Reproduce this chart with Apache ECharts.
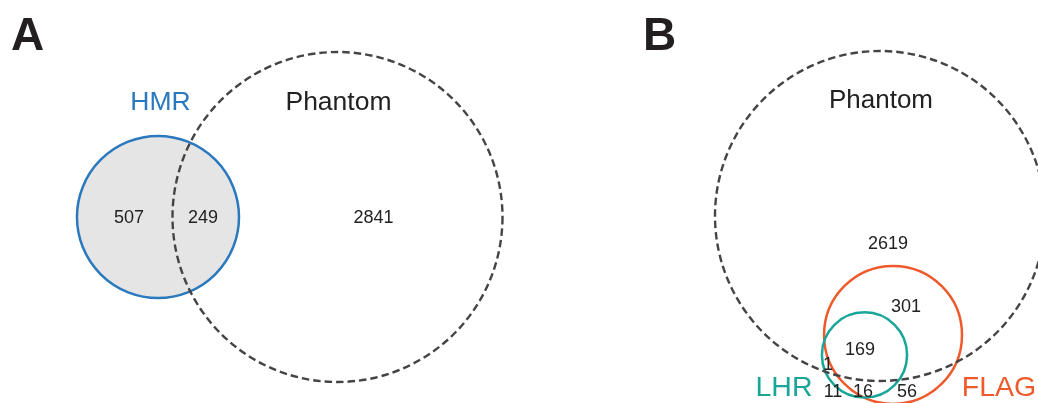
<!DOCTYPE html>
<html>
<head>
<meta charset="utf-8">
<title>Venn diagrams</title>
<script src="https://cdn.jsdelivr.net/npm/echarts@6/dist/echarts.min.js"></script>
<style>
  html, body { margin: 0; padding: 0; background: #ffffff; }
  #chart { width: 1038px; height: 403px; }
</style>
</head>
<body>
<div id="chart"></div>
<script>
// ---- Panel A: HMR vs Phantom ----
const setNamesA = ['HMR', 'Phantom'];
const regionLabelsA = ['HMR only', 'HMR ∩ Phantom', 'Phantom only'];
const regionCountsA = [507, 249, 2841];

// ---- Panel B: Phantom, FLAG, LHR ----
const setNamesB = ['Phantom', 'FLAG', 'LHR'];
const regionLabelsB = ['Phantom only', 'Phantom ∩ FLAG', 'Phantom ∩ FLAG ∩ LHR', 'Phantom ∩ LHR',
                       'LHR only', 'FLAG ∩ LHR', 'FLAG only'];
const regionCountsB = [2619, 301, 169, 1, 11, 16, 56];

const panelLetters = ['A', 'B'];

// Circle geometry in panel units (Phantom circle: radius 10 at origin): [cx, cy, r]
const circlesA = [[-10.88, 0, 4.91], [0, 0, 10]];
const circlesB = [[0, 0, 10], [0.79, -7.21, 4.18], [-0.94, -8.42, 2.58]];

// Label anchors in panel units
const namePosA = [[-10.73, 6.9], [0.06, 6.9]];
const countPosA = [[-12.64, -0.08], [-8.15, -0.08], [2.18, -0.08]];
const namePosB = [[0.06, 6.95], [7.21, -10.45], [-5.82, -10.42]];
const countPosB = [[0.48, -1.67], [1.58, -5.52], [-1.21, -8.15], [-3.15, -9.03],
                   [-2.85, -10.67], [-1.03, -10.67], [1.64, -10.67]];

const FONT = '"Liberation Sans", Arial, Helvetica, sans-serif';
const setStyle = {
  HMR:     { stroke: '#2a78bd', fill: '#e5e5e5', lineWidth: 2.5, lineDash: null, text: '#2a78bd' },
  Phantom: { stroke: '#444444', fill: null, lineWidth: 2.4, lineDash: [7.5, 4], text: '#222222' },
  FLAG:    { stroke: '#ee5a2c', fill: null, lineWidth: 2.5, lineDash: null, text: '#ee5a2c' },
  LHR:     { stroke: '#19a598', fill: null, lineWidth: 2.5, lineDash: null, text: '#19a598' }
};

function circleSeries(gridIndex, circles, names, which, z) {
  // which: 'fill' or 'stroke'
  return {
    type: 'custom',
    coordinateSystem: 'cartesian2d',
    xAxisIndex: gridIndex,
    yAxisIndex: gridIndex,
    z: z,
    silent: true,
    clip: false,
    data: circles.map((c, i) => ({ value: c, name: names[i] })),
    renderItem: function (params, api) {
      const name = names[params.dataIndex];
      const st = setStyle[name];
      const c = api.coord([api.value(0), api.value(1)]);
      const r = api.size([api.value(2), 0])[0];
      if (which === 'fill') {
        if (!st.fill) return null;
        return { type: 'circle', shape: { cx: c[0], cy: c[1], r: r }, style: { fill: st.fill, stroke: null } };
      }
      return {
        type: 'circle',
        shape: { cx: c[0], cy: c[1], r: r },
        style: { fill: null, stroke: st.stroke, lineWidth: st.lineWidth, lineDash: st.lineDash }
      };
    }
  };
}

function textSeries(gridIndex, positions, texts, colors, fontSize, z) {
  return {
    type: 'custom',
    coordinateSystem: 'cartesian2d',
    xAxisIndex: gridIndex,
    yAxisIndex: gridIndex,
    z: z,
    silent: true,
    clip: false,
    data: positions.map((p, i) => ({ value: [p[0], p[1]], name: String(texts[i]) })),
    renderItem: function (params, api) {
      const c = api.coord([api.value(0), api.value(1)]);
      return {
        type: 'text',
        x: c[0],
        y: c[1],
        style: {
          text: String(texts[params.dataIndex]),
          fill: colors[params.dataIndex],
          fontSize: fontSize,
          fontFamily: FONT,
          align: 'center',
          verticalAlign: 'middle'
        }
      };
    }
  };
}

const hiddenAxis = { show: false };
const chart = echarts.init(document.getElementById('chart'), null, { renderer: 'canvas' });

chart.setOption({
  animation: false,
  backgroundColor: '#ffffff',
  grid: [
    { left: 7.5, top: 2.5, width: 511.5, height: 396 },
    { left: 715, top: 1.5, width: 313.5, height: 396 }
  ],
  xAxis: [
    Object.assign({ type: 'value', gridIndex: 0, min: -20, max: 11 }, hiddenAxis),
    Object.assign({ type: 'value', gridIndex: 1, min: -10, max: 9 }, hiddenAxis)
  ],
  yAxis: [
    Object.assign({ type: 'value', gridIndex: 0, min: -11, max: 13 }, hiddenAxis),
    Object.assign({ type: 'value', gridIndex: 1, min: -11, max: 13 }, hiddenAxis)
  ],
  graphic: [
    { type: 'text', left: 11, top: 14, style: { text: panelLetters[0], fontSize: 46, fontWeight: 'bold', fontFamily: FONT, fill: '#231f20' } },
    { type: 'text', left: 643, top: 14, style: { text: panelLetters[1], fontSize: 46, fontWeight: 'bold', fontFamily: FONT, fill: '#231f20' } }
  ],
  series: [
    // Panel A
    circleSeries(0, circlesA, setNamesA, 'fill', 1),
    circleSeries(0, [circlesA[0]], [setNamesA[0]], 'stroke', 2),
    circleSeries(0, [circlesA[1]], [setNamesA[1]], 'stroke', 3),
    textSeries(0, namePosA, setNamesA, setNamesA.map(n => setStyle[n].text), 26.5, 5),
    textSeries(0, countPosA, regionCountsA, regionCountsA.map(() => '#222222'), 18, 5),
    // Panel B
    circleSeries(1, [circlesB[1], circlesB[2]], [setNamesB[1], setNamesB[2]], 'stroke', 2),
    circleSeries(1, [circlesB[0]], [setNamesB[0]], 'stroke', 3),
    textSeries(1, [namePosB[0]], [setNamesB[0]], [setStyle.Phantom.text], 26, 5),
    textSeries(1, namePosB.slice(1), setNamesB.slice(1), setNamesB.slice(1).map(n => setStyle[n].text), 28.5, 5),
    textSeries(1, countPosB, regionCountsB, regionCountsB.map(() => '#222222'), 18, 5)
  ]
});
</script>
</body>
</html>
